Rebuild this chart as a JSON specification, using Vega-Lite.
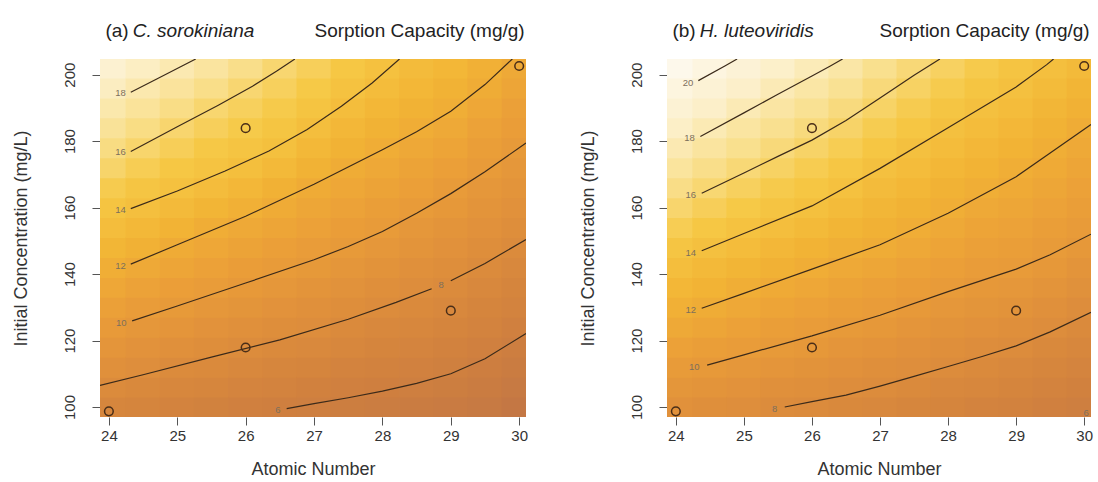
{
"$schema":"https://vega.github.io/schema/vega-lite/v6.json",
"padding":{"left":12,"top":22,"right":2,"bottom":2},
"bounds":"flush",
"spacing":141,
"config":{"view":{"stroke":null},"font":"Liberation Sans"},
"datasets":{
"ha":[
{"x":24,"y":100,"v":7.22},{"x":24,"y":106,"v":7.88},{"x":24,"y":112,"v":8.59},{"x":24,"y":118,"v":9.32},{"x":24,"y":124,"v":10.05},{"x":24,"y":130,"v":10.77},{"x":24,"y":136,"v":11.49},{"x":24,"y":142,"v":12.2},{"x":24,"y":148,"v":12.92},{"x":24,"y":154,"v":13.63},{"x":24,"y":160,"v":14.36},{"x":24,"y":166,"v":15.1},{"x":24,"y":172,"v":15.84},{"x":24,"y":178,"v":16.52},{"x":24,"y":184,"v":17.19},{"x":24,"y":190,"v":17.86},{"x":24,"y":196,"v":18.56},{"x":24,"y":202,"v":19.28},
{"x":24.5,"y":100,"v":6.96},{"x":24.5,"y":106,"v":7.6},{"x":24.5,"y":112,"v":8.27},{"x":24.5,"y":118,"v":8.96},{"x":24.5,"y":124,"v":9.65},{"x":24.5,"y":130,"v":10.34},{"x":24.5,"y":136,"v":11.03},{"x":24.5,"y":142,"v":11.71},{"x":24.5,"y":148,"v":12.42},{"x":24.5,"y":154,"v":13.14},{"x":24.5,"y":160,"v":13.86},{"x":24.5,"y":166,"v":14.54},{"x":24.5,"y":172,"v":15.22},{"x":24.5,"y":178,"v":15.9},{"x":24.5,"y":184,"v":16.58},{"x":24.5,"y":190,"v":17.25},{"x":24.5,"y":196,"v":17.93},{"x":24.5,"y":202,"v":18.62},
{"x":25,"y":100,"v":6.72},{"x":25,"y":106,"v":7.34},{"x":25,"y":112,"v":7.96},{"x":25,"y":118,"v":8.62},{"x":25,"y":124,"v":9.29},{"x":25,"y":130,"v":9.96},{"x":25,"y":136,"v":10.61},{"x":25,"y":142,"v":11.26},{"x":25,"y":148,"v":11.91},{"x":25,"y":154,"v":12.63},{"x":25,"y":160,"v":13.37},{"x":25,"y":166,"v":14.08},{"x":25,"y":172,"v":14.7},{"x":25,"y":178,"v":15.33},{"x":25,"y":184,"v":15.95},{"x":25,"y":190,"v":16.63},{"x":25,"y":196,"v":17.32},{"x":25,"y":202,"v":18.01},
{"x":25.5,"y":100,"v":6.48},{"x":25.5,"y":106,"v":7.09},{"x":25.5,"y":112,"v":7.7},{"x":25.5,"y":118,"v":8.32},{"x":25.5,"y":124,"v":8.96},{"x":25.5,"y":130,"v":9.6},{"x":25.5,"y":136,"v":10.23},{"x":25.5,"y":142,"v":10.85},{"x":25.5,"y":148,"v":11.47},{"x":25.5,"y":154,"v":12.11},{"x":25.5,"y":160,"v":12.86},{"x":25.5,"y":166,"v":13.6},{"x":25.5,"y":172,"v":14.27},{"x":25.5,"y":178,"v":14.84},{"x":25.5,"y":184,"v":15.42},{"x":25.5,"y":190,"v":15.99},{"x":25.5,"y":196,"v":16.7},{"x":25.5,"y":202,"v":17.41},
{"x":26,"y":100,"v":6.27},{"x":26,"y":106,"v":6.86},{"x":26,"y":112,"v":7.45},{"x":26,"y":118,"v":8.04},{"x":26,"y":124,"v":8.65},{"x":26,"y":130,"v":9.26},{"x":26,"y":136,"v":9.87},{"x":26,"y":142,"v":10.47},{"x":26,"y":148,"v":11.06},{"x":26,"y":154,"v":11.66},{"x":26,"y":160,"v":12.33},{"x":26,"y":166,"v":13.08},{"x":26,"y":172,"v":13.84},{"x":26,"y":178,"v":14.42},{"x":26,"y":184,"v":14.96},{"x":26,"y":190,"v":15.49},{"x":26,"y":196,"v":16.03},{"x":26,"y":202,"v":16.73},
{"x":26.5,"y":100,"v":6.07},{"x":26.5,"y":106,"v":6.64},{"x":26.5,"y":112,"v":7.22},{"x":26.5,"y":118,"v":7.79},{"x":26.5,"y":124,"v":8.37},{"x":26.5,"y":130,"v":8.96},{"x":26.5,"y":136,"v":9.54},{"x":26.5,"y":142,"v":10.12},{"x":26.5,"y":148,"v":10.69},{"x":26.5,"y":154,"v":11.25},{"x":26.5,"y":160,"v":11.82},{"x":26.5,"y":166,"v":12.5},{"x":26.5,"y":172,"v":13.22},{"x":26.5,"y":178,"v":13.95},{"x":26.5,"y":184,"v":14.47},{"x":26.5,"y":190,"v":14.98},{"x":26.5,"y":196,"v":15.49},{"x":26.5,"y":202,"v":16.0},
{"x":27,"y":100,"v":5.91},{"x":27,"y":106,"v":6.46},{"x":27,"y":112,"v":7.01},{"x":27,"y":118,"v":7.56},{"x":27,"y":124,"v":8.11},{"x":27,"y":130,"v":8.68},{"x":27,"y":136,"v":9.24},{"x":27,"y":142,"v":9.8},{"x":27,"y":148,"v":10.34},{"x":27,"y":154,"v":10.86},{"x":27,"y":160,"v":11.39},{"x":27,"y":166,"v":11.91},{"x":27,"y":172,"v":12.53},{"x":27,"y":178,"v":13.16},{"x":27,"y":184,"v":13.79},{"x":27,"y":190,"v":14.35},{"x":27,"y":196,"v":14.87},{"x":27,"y":202,"v":15.39},
{"x":27.5,"y":100,"v":5.75},{"x":27.5,"y":106,"v":6.27},{"x":27.5,"y":112,"v":6.78},{"x":27.5,"y":118,"v":7.29},{"x":27.5,"y":124,"v":7.8},{"x":27.5,"y":130,"v":8.33},{"x":27.5,"y":136,"v":8.87},{"x":27.5,"y":142,"v":9.42},{"x":27.5,"y":148,"v":9.96},{"x":27.5,"y":154,"v":10.47},{"x":27.5,"y":160,"v":10.97},{"x":27.5,"y":166,"v":11.48},{"x":27.5,"y":172,"v":11.98},{"x":27.5,"y":178,"v":12.54},{"x":27.5,"y":184,"v":13.09},{"x":27.5,"y":190,"v":13.65},{"x":27.5,"y":196,"v":14.2},{"x":27.5,"y":202,"v":14.74},
{"x":28,"y":100,"v":5.6},{"x":28,"y":106,"v":6.09},{"x":28,"y":112,"v":6.57},{"x":28,"y":118,"v":7.04},{"x":28,"y":124,"v":7.52},{"x":28,"y":130,"v":7.99},{"x":28,"y":136,"v":8.52},{"x":28,"y":142,"v":9.05},{"x":28,"y":148,"v":9.58},{"x":28,"y":154,"v":10.1},{"x":28,"y":160,"v":10.59},{"x":28,"y":166,"v":11.07},{"x":28,"y":172,"v":11.56},{"x":28,"y":178,"v":12.05},{"x":28,"y":184,"v":12.55},{"x":28,"y":190,"v":13.05},{"x":28,"y":196,"v":13.54},{"x":28,"y":202,"v":14.04},
{"x":28.5,"y":100,"v":5.44},{"x":28.5,"y":106,"v":5.92},{"x":28.5,"y":112,"v":6.37},{"x":28.5,"y":118,"v":6.82},{"x":28.5,"y":124,"v":7.26},{"x":28.5,"y":130,"v":7.71},{"x":28.5,"y":136,"v":8.17},{"x":28.5,"y":142,"v":8.66},{"x":28.5,"y":148,"v":9.14},{"x":28.5,"y":154,"v":9.63},{"x":28.5,"y":160,"v":10.12},{"x":28.5,"y":166,"v":10.62},{"x":28.5,"y":172,"v":11.12},{"x":28.5,"y":178,"v":11.62},{"x":28.5,"y":184,"v":12.11},{"x":28.5,"y":190,"v":12.56},{"x":28.5,"y":196,"v":13.02},{"x":28.5,"y":202,"v":13.47},
{"x":29,"y":100,"v":5.27},{"x":29,"y":106,"v":5.72},{"x":29,"y":112,"v":6.16},{"x":29,"y":118,"v":6.58},{"x":29,"y":124,"v":7.01},{"x":29,"y":130,"v":7.44},{"x":29,"y":136,"v":7.86},{"x":29,"y":142,"v":8.31},{"x":29,"y":148,"v":8.76},{"x":29,"y":154,"v":9.22},{"x":29,"y":160,"v":9.67},{"x":29,"y":166,"v":10.14},{"x":29,"y":172,"v":10.65},{"x":29,"y":178,"v":11.16},{"x":29,"y":184,"v":11.68},{"x":29,"y":190,"v":12.16},{"x":29,"y":196,"v":12.6},{"x":29,"y":202,"v":13.04},
{"x":29.5,"y":100,"v":4.98},{"x":29.5,"y":106,"v":5.4},{"x":29.5,"y":112,"v":5.82},{"x":29.5,"y":118,"v":6.24},{"x":29.5,"y":124,"v":6.66},{"x":29.5,"y":130,"v":7.07},{"x":29.5,"y":136,"v":7.48},{"x":29.5,"y":142,"v":7.9},{"x":29.5,"y":148,"v":8.33},{"x":29.5,"y":154,"v":8.76},{"x":29.5,"y":160,"v":9.2},{"x":29.5,"y":166,"v":9.63},{"x":29.5,"y":172,"v":10.07},{"x":29.5,"y":178,"v":10.54},{"x":29.5,"y":184,"v":11.02},{"x":29.5,"y":190,"v":11.49},{"x":29.5,"y":196,"v":11.96},{"x":29.5,"y":202,"v":12.39},
{"x":30,"y":100,"v":4.56},{"x":30,"y":106,"v":4.97},{"x":30,"y":112,"v":5.39},{"x":30,"y":118,"v":5.81},{"x":30,"y":124,"v":6.23},{"x":30,"y":130,"v":6.65},{"x":30,"y":136,"v":7.07},{"x":30,"y":142,"v":7.49},{"x":30,"y":148,"v":7.92},{"x":30,"y":154,"v":8.33},{"x":30,"y":160,"v":8.75},{"x":30,"y":166,"v":9.17},{"x":30,"y":172,"v":9.58},{"x":30,"y":178,"v":10.0},{"x":30,"y":184,"v":10.41},{"x":30,"y":190,"v":10.83},{"x":30,"y":196,"v":11.24},{"x":30,"y":202,"v":11.66}
],
"hb":[
{"x":24,"y":100,"v":8.73},{"x":24,"y":106,"v":9.45},{"x":24,"y":112,"v":10.18},{"x":24,"y":118,"v":10.91},{"x":24,"y":124,"v":11.64},{"x":24,"y":130,"v":12.36},{"x":24,"y":136,"v":13.07},{"x":24,"y":142,"v":13.79},{"x":24,"y":148,"v":14.5},{"x":24,"y":154,"v":15.22},{"x":24,"y":160,"v":15.94},{"x":24,"y":166,"v":16.65},{"x":24,"y":172,"v":17.36},{"x":24,"y":178,"v":18.07},{"x":24,"y":184,"v":18.77},{"x":24,"y":190,"v":19.47},{"x":24,"y":196,"v":20.18},{"x":24,"y":202,"v":20.91},
{"x":24.5,"y":100,"v":8.49},{"x":24.5,"y":106,"v":9.19},{"x":24.5,"y":112,"v":9.88},{"x":24.5,"y":118,"v":10.57},{"x":24.5,"y":124,"v":11.25},{"x":24.5,"y":130,"v":11.93},{"x":24.5,"y":136,"v":12.62},{"x":24.5,"y":142,"v":13.31},{"x":24.5,"y":148,"v":14.0},{"x":24.5,"y":154,"v":14.69},{"x":24.5,"y":160,"v":15.37},{"x":24.5,"y":166,"v":16.06},{"x":24.5,"y":172,"v":16.74},{"x":24.5,"y":178,"v":17.43},{"x":24.5,"y":184,"v":18.12},{"x":24.5,"y":190,"v":18.82},{"x":24.5,"y":196,"v":19.52},{"x":24.5,"y":202,"v":20.22},
{"x":25,"y":100,"v":8.26},{"x":25,"y":106,"v":8.92},{"x":25,"y":112,"v":9.59},{"x":25,"y":118,"v":10.25},{"x":25,"y":124,"v":10.9},{"x":25,"y":130,"v":11.55},{"x":25,"y":136,"v":12.2},{"x":25,"y":142,"v":12.87},{"x":25,"y":148,"v":13.53},{"x":25,"y":154,"v":14.2},{"x":25,"y":160,"v":14.86},{"x":25,"y":166,"v":15.52},{"x":25,"y":172,"v":16.18},{"x":25,"y":178,"v":16.84},{"x":25,"y":184,"v":17.5},{"x":25,"y":190,"v":18.17},{"x":25,"y":196,"v":18.87},{"x":25,"y":202,"v":19.56},
{"x":25.5,"y":100,"v":8.03},{"x":25.5,"y":106,"v":8.67},{"x":25.5,"y":112,"v":9.31},{"x":25.5,"y":118,"v":9.95},{"x":25.5,"y":124,"v":10.57},{"x":25.5,"y":130,"v":11.19},{"x":25.5,"y":136,"v":11.8},{"x":25.5,"y":142,"v":12.44},{"x":25.5,"y":148,"v":13.09},{"x":25.5,"y":154,"v":13.74},{"x":25.5,"y":160,"v":14.38},{"x":25.5,"y":166,"v":15.01},{"x":25.5,"y":172,"v":15.64},{"x":25.5,"y":178,"v":16.28},{"x":25.5,"y":184,"v":16.92},{"x":25.5,"y":190,"v":17.56},{"x":25.5,"y":196,"v":18.21},{"x":25.5,"y":202,"v":18.88},
{"x":26,"y":100,"v":7.84},{"x":26,"y":106,"v":8.44},{"x":26,"y":112,"v":9.05},{"x":26,"y":118,"v":9.66},{"x":26,"y":124,"v":10.26},{"x":26,"y":130,"v":10.86},{"x":26,"y":136,"v":11.45},{"x":26,"y":142,"v":12.05},{"x":26,"y":148,"v":12.68},{"x":26,"y":154,"v":13.32},{"x":26,"y":160,"v":13.95},{"x":26,"y":166,"v":14.56},{"x":26,"y":172,"v":15.16},{"x":26,"y":178,"v":15.77},{"x":26,"y":184,"v":16.38},{"x":26,"y":190,"v":17.01},{"x":26,"y":196,"v":17.63},{"x":26,"y":202,"v":18.26},
{"x":26.5,"y":100,"v":7.65},{"x":26.5,"y":106,"v":8.23},{"x":26.5,"y":112,"v":8.81},{"x":26.5,"y":118,"v":9.38},{"x":26.5,"y":124,"v":9.96},{"x":26.5,"y":130,"v":10.54},{"x":26.5,"y":136,"v":11.12},{"x":26.5,"y":142,"v":11.69},{"x":26.5,"y":148,"v":12.27},{"x":26.5,"y":154,"v":12.86},{"x":26.5,"y":160,"v":13.45},{"x":26.5,"y":166,"v":14.04},{"x":26.5,"y":172,"v":14.62},{"x":26.5,"y":178,"v":15.2},{"x":26.5,"y":184,"v":15.79},{"x":26.5,"y":190,"v":16.39},{"x":26.5,"y":196,"v":17.02},{"x":26.5,"y":202,"v":17.64},
{"x":27,"y":100,"v":7.41},{"x":27,"y":106,"v":7.97},{"x":27,"y":112,"v":8.54},{"x":27,"y":118,"v":9.1},{"x":27,"y":124,"v":9.66},{"x":27,"y":130,"v":10.23},{"x":27,"y":136,"v":10.79},{"x":27,"y":142,"v":11.36},{"x":27,"y":148,"v":11.92},{"x":27,"y":154,"v":12.45},{"x":27,"y":160,"v":12.97},{"x":27,"y":166,"v":13.5},{"x":27,"y":172,"v":14.02},{"x":27,"y":178,"v":14.58},{"x":27,"y":184,"v":15.15},{"x":27,"y":190,"v":15.72},{"x":27,"y":196,"v":16.29},{"x":27,"y":202,"v":16.86},
{"x":27.5,"y":100,"v":7.17},{"x":27.5,"y":106,"v":7.71},{"x":27.5,"y":112,"v":8.26},{"x":27.5,"y":118,"v":8.81},{"x":27.5,"y":124,"v":9.36},{"x":27.5,"y":130,"v":9.91},{"x":27.5,"y":136,"v":10.46},{"x":27.5,"y":142,"v":11.0},{"x":27.5,"y":148,"v":11.55},{"x":27.5,"y":154,"v":12.09},{"x":27.5,"y":160,"v":12.57},{"x":27.5,"y":166,"v":13.05},{"x":27.5,"y":172,"v":13.53},{"x":27.5,"y":178,"v":14.01},{"x":27.5,"y":184,"v":14.56},{"x":27.5,"y":190,"v":15.11},{"x":27.5,"y":196,"v":15.65},{"x":27.5,"y":202,"v":16.2},
{"x":28,"y":100,"v":6.95},{"x":28,"y":106,"v":7.47},{"x":28,"y":112,"v":7.98},{"x":28,"y":118,"v":8.52},{"x":28,"y":124,"v":9.05},{"x":28,"y":130,"v":9.58},{"x":28,"y":136,"v":10.11},{"x":28,"y":142,"v":10.62},{"x":28,"y":148,"v":11.13},{"x":28,"y":154,"v":11.64},{"x":28,"y":160,"v":12.13},{"x":28,"y":166,"v":12.6},{"x":28,"y":172,"v":13.07},{"x":28,"y":178,"v":13.53},{"x":28,"y":184,"v":14.0},{"x":28,"y":190,"v":14.53},{"x":28,"y":196,"v":15.07},{"x":28,"y":202,"v":15.6},
{"x":28.5,"y":100,"v":6.74},{"x":28.5,"y":106,"v":7.24},{"x":28.5,"y":112,"v":7.74},{"x":28.5,"y":118,"v":8.24},{"x":28.5,"y":124,"v":8.75},{"x":28.5,"y":130,"v":9.26},{"x":28.5,"y":136,"v":9.77},{"x":28.5,"y":142,"v":10.26},{"x":28.5,"y":148,"v":10.74},{"x":28.5,"y":154,"v":11.22},{"x":28.5,"y":160,"v":11.7},{"x":28.5,"y":166,"v":12.17},{"x":28.5,"y":172,"v":12.62},{"x":28.5,"y":178,"v":13.08},{"x":28.5,"y":184,"v":13.54},{"x":28.5,"y":190,"v":13.99},{"x":28.5,"y":196,"v":14.49},{"x":28.5,"y":202,"v":15.0},
{"x":29,"y":100,"v":6.49},{"x":29,"y":106,"v":6.98},{"x":29,"y":112,"v":7.48},{"x":29,"y":118,"v":7.97},{"x":29,"y":124,"v":8.51},{"x":29,"y":130,"v":9.05},{"x":29,"y":136,"v":9.59},{"x":29,"y":142,"v":10.1},{"x":29,"y":148,"v":10.52},{"x":29,"y":154,"v":10.94},{"x":29,"y":160,"v":11.35},{"x":29,"y":166,"v":11.77},{"x":29,"y":172,"v":12.2},{"x":29,"y":178,"v":12.64},{"x":29,"y":184,"v":13.09},{"x":29,"y":190,"v":13.53},{"x":29,"y":196,"v":13.98},{"x":29,"y":202,"v":14.44},
{"x":29.5,"y":100,"v":6.23},{"x":29.5,"y":106,"v":6.7},{"x":29.5,"y":112,"v":7.17},{"x":29.5,"y":118,"v":7.64},{"x":29.5,"y":124,"v":8.12},{"x":29.5,"y":130,"v":8.65},{"x":29.5,"y":136,"v":9.17},{"x":29.5,"y":142,"v":9.69},{"x":29.5,"y":148,"v":10.16},{"x":29.5,"y":154,"v":10.55},{"x":29.5,"y":160,"v":10.94},{"x":29.5,"y":166,"v":11.33},{"x":29.5,"y":172,"v":11.72},{"x":29.5,"y":178,"v":12.12},{"x":29.5,"y":184,"v":12.55},{"x":29.5,"y":190,"v":12.99},{"x":29.5,"y":196,"v":13.43},{"x":29.5,"y":202,"v":13.87},
{"x":30,"y":100,"v":6.0},{"x":30,"y":106,"v":6.43},{"x":30,"y":112,"v":6.87},{"x":30,"y":118,"v":7.3},{"x":30,"y":124,"v":7.73},{"x":30,"y":130,"v":8.2},{"x":30,"y":136,"v":8.71},{"x":30,"y":142,"v":9.23},{"x":30,"y":148,"v":9.74},{"x":30,"y":154,"v":10.18},{"x":30,"y":160,"v":10.55},{"x":30,"y":166,"v":10.91},{"x":30,"y":172,"v":11.28},{"x":30,"y":178,"v":11.64},{"x":30,"y":184,"v":12.01},{"x":30,"y":190,"v":12.45},{"x":30,"y":196,"v":12.89},{"x":30,"y":202,"v":13.34}
],
"la":[
{"id":"18","x":24.32,"y":194.7},{"id":"18","x":24.7,"y":198.7},{"id":"18","x":25.07,"y":202.6},{"id":"18","x":25.27,"y":204.7},
{"id":"16","x":24.32,"y":176.9},{"id":"16","x":25.0,"y":184.3},{"id":"16","x":25.6,"y":190.8},{"id":"16","x":26.1,"y":196.5},{"id":"16","x":26.45,"y":201},{"id":"16","x":26.72,"y":204.7},
{"id":"14","x":24.32,"y":159.7},{"id":"14","x":25.0,"y":165.0},{"id":"14","x":25.7,"y":171.0},{"id":"14","x":26.34,"y":177.0},{"id":"14","x":26.9,"y":183.5},{"id":"14","x":27.4,"y":190.5},{"id":"14","x":27.85,"y":197.5},{"id":"14","x":28.25,"y":204.7},
{"id":"12","x":24.32,"y":143.0},{"id":"12","x":25.0,"y":148.8},{"id":"12","x":26.0,"y":157.4},{"id":"12","x":27.0,"y":167.0},{"id":"12","x":28.0,"y":177.4},{"id":"12","x":28.5,"y":182.8},{"id":"12","x":29.0,"y":189.0},{"id":"12","x":29.5,"y":197.0},{"id":"12","x":29.9,"y":204.7},
{"id":"10","x":24.34,"y":125.9},{"id":"10","x":25.0,"y":130.4},{"id":"10","x":26.0,"y":137.3},{"id":"10","x":27.0,"y":144.3},{"id":"10","x":27.5,"y":148.3},{"id":"10","x":28.0,"y":152.8},{"id":"10","x":28.5,"y":158.3},{"id":"10","x":29.0,"y":164.2},{"id":"10","x":29.5,"y":170.8},{"id":"10","x":30.1,"y":179.4},
{"id":"8a","x":23.87,"y":106.5},{"id":"8a","x":24.5,"y":109.7},{"id":"8a","x":25.5,"y":115.0},{"id":"8a","x":26.5,"y":120.2},{"id":"8a","x":27.5,"y":126.4},{"id":"8a","x":28.2,"y":131.5},{"id":"8a","x":28.72,"y":135.6},
{"id":"8b","x":29.0,"y":138.0},{"id":"8b","x":29.5,"y":143.2},{"id":"8b","x":30.1,"y":150.4},
{"id":"6","x":26.6,"y":99.5},{"id":"6","x":27.0,"y":101.0},{"id":"6","x":27.5,"y":102.8},{"id":"6","x":28.0,"y":104.8},{"id":"6","x":28.5,"y":107.1},{"id":"6","x":29.0,"y":110.0},{"id":"6","x":29.5,"y":114.5},{"id":"6","x":30.1,"y":122.1}
],
"lb":[
{"id":"20","x":24.33,"y":198.2},{"id":"20","x":24.72,"y":202.6},{"id":"20","x":24.9,"y":204.7},
{"id":"18","x":24.36,"y":181.4},{"id":"18","x":25.0,"y":188.5},{"id":"18","x":25.5,"y":194.1},{"id":"18","x":26.0,"y":199.6},{"id":"18","x":26.27,"y":202.6},{"id":"18","x":26.45,"y":204.7},
{"id":"16","x":24.38,"y":164.3},{"id":"16","x":25.0,"y":170.4},{"id":"16","x":25.5,"y":175.4},{"id":"16","x":26.0,"y":180.3},{"id":"16","x":26.5,"y":186.2},{"id":"16","x":27.0,"y":193.0},{"id":"16","x":27.5,"y":199.8},{"id":"16","x":27.88,"y":204.7},
{"id":"14","x":24.38,"y":147.0},{"id":"14","x":25.0,"y":152.2},{"id":"14","x":26.0,"y":160.5},{"id":"14","x":27.0,"y":171.8},{"id":"14","x":28.0,"y":184.0},{"id":"14","x":29.0,"y":196.3},{"id":"14","x":29.45,"y":203.0},{"id":"14","x":29.55,"y":204.7},
{"id":"12","x":24.38,"y":129.7},{"id":"12","x":25.0,"y":134.2},{"id":"12","x":26.0,"y":141.5},{"id":"12","x":27.0,"y":148.8},{"id":"12","x":28.0,"y":158.3},{"id":"12","x":29.0,"y":169.3},{"id":"12","x":29.5,"y":176.4},{"id":"12","x":30.1,"y":185.0},
{"id":"10","x":24.46,"y":112.6},{"id":"10","x":25.0,"y":115.7},{"id":"10","x":26.0,"y":121.4},{"id":"10","x":27.0,"y":127.6},{"id":"10","x":28.0,"y":134.7},{"id":"10","x":29.0,"y":141.5},{"id":"10","x":29.5,"y":145.8},{"id":"10","x":30.1,"y":152.0},
{"id":"8","x":25.6,"y":100.0},{"id":"8","x":26.0,"y":101.6},{"id":"8","x":26.5,"y":103.6},{"id":"8","x":27.0,"y":106.3},{"id":"8","x":27.5,"y":109.2},{"id":"8","x":28.0,"y":112.2},{"id":"8","x":28.5,"y":115.2},{"id":"8","x":29.0,"y":118.4},{"id":"8","x":29.5,"y":122.6},{"id":"8","x":30.1,"y":128.5}
],
"ta":[
{"t":"18","x":24.17,"y":194.6},{"t":"16","x":24.17,"y":176.6},{"t":"14","x":24.17,"y":159.3},{"t":"12","x":24.17,"y":142.5},{"t":"10","x":24.18,"y":125.3},{"t":"8","x":28.86,"y":136.7},{"t":"6","x":26.47,"y":99.1}
],
"tb":[
{"t":"20","x":24.18,"y":197.6},{"t":"18","x":24.2,"y":180.8},{"t":"16","x":24.22,"y":163.7},{"t":"14","x":24.22,"y":146.4},{"t":"12","x":24.22,"y":129.1},{"t":"10","x":24.27,"y":111.9},{"t":"8","x":25.45,"y":99.4},{"t":"6","x":30.03,"y":98.3}
],
"pts":[
{"x":24,"y":98.7},{"x":26,"y":117.9},{"x":26,"y":183.9},{"x":29,"y":129.0},{"x":30,"y":202.6}
]
},
"hconcat":[
{
"width":426,"height":358,
"layer":[
{"data":{"name":"ha"},"mark":{"type":"rect","width":35,"height":21,"clip":true},"encoding":{
"x":{"field":"x","type":"quantitative","scale":{"domain":[23.87,30.1],"nice":false,"zero":false},"axis":{"title":"Atomic Number","values":[24,25,26,27,28,29,30],"format":"d","domain":false,"grid":false,"tickSize":8,"tickColor":"#555","labelFontSize":15,"labelColor":"#333","labelPadding":3,"titleFontSize":18,"titleFontWeight":"normal","titleColor":"#333","titlePadding":17}},
"y":{"field":"y","type":"quantitative","scale":{"domain":[97,204.7],"nice":false,"zero":false},"axis":{"title":"Initial Concentration (mg/L)","values":[100,120,140,160,180,200],"format":"d","domain":false,"grid":false,"tickSize":8,"tickColor":"#555","labelFontSize":15,"labelColor":"#333","labelAngle":270,"labelAlign":"center","labelBaseline":"middle","labelPadding":23,"titleFontSize":18,"titleFontWeight":"normal","titleColor":"#333","titlePadding":32}},
"color":{"field":"v","type":"quantitative","scale":{"domain":[4.5,6,8,10,12,14,16,18,19.5],"range":["#c47744","#d2823e","#e0903b","#eb9f38","#f2b435","#f6c845","#f9e08f","#fcf0cc","#fdf8ec"],"interpolate":"rgb"},"legend":null}}},
{"data":{"name":"la"},"mark":{"type":"line","clip":true,"color":"#3b2a1a","strokeWidth":1.2},"encoding":{"x":{"field":"x","type":"quantitative","scale":{"domain":[23.87,30.1]}},"y":{"field":"y","type":"quantitative","scale":{"domain":[97,204.7]}},"detail":{"field":"id"}}},
{"data":{"name":"ta"},"mark":{"type":"text","fontSize":9.5,"color":"#7d6f5c"},"encoding":{"x":{"field":"x","type":"quantitative","scale":{"domain":[23.87,30.1]}},"y":{"field":"y","type":"quantitative","scale":{"domain":[97,204.7]}},"text":{"field":"t"}}},
{"data":{"name":"pts"},"mark":{"type":"point","shape":"circle","size":75,"strokeWidth":1.5,"color":"#4a2e18","filled":false,"opacity":1},"encoding":{"x":{"field":"x","type":"quantitative","scale":{"domain":[23.87,30.1]}},"y":{"field":"y","type":"quantitative","scale":{"domain":[97,204.7]}}}},
{"data":{"values":[{"t":"(a)"}]},"mark":{"type":"text","align":"left","baseline":"middle","fontSize":19,"color":"#222","clip":false},"encoding":{"x":{"datum":23.95,"type":"quantitative","scale":{"domain":[23.87,30.1]}},"y":{"datum":213,"type":"quantitative","scale":{"domain":[97,204.7]}},"text":{"field":"t"}}},
{"data":{"values":[{"t":"C. sorokiniana"}]},"mark":{"type":"text","align":"left","baseline":"middle","fontSize":19,"fontStyle":"italic","color":"#222","clip":false},"encoding":{"x":{"datum":24.35,"type":"quantitative","scale":{"domain":[23.87,30.1]}},"y":{"datum":213,"type":"quantitative","scale":{"domain":[97,204.7]}},"text":{"field":"t"}}},
{"data":{"values":[{"t":"Sorption Capacity (mg/g)"}]},"mark":{"type":"text","align":"right","baseline":"middle","fontSize":19,"color":"#222","clip":false},"encoding":{"x":{"datum":30.08,"type":"quantitative","scale":{"domain":[23.87,30.1]}},"y":{"datum":213,"type":"quantitative","scale":{"domain":[97,204.7]}},"text":{"field":"t"}}}
]
},
{
"width":424,"height":358,
"layer":[
{"data":{"name":"hb"},"mark":{"type":"rect","width":35,"height":21,"clip":true},"encoding":{
"x":{"field":"x","type":"quantitative","scale":{"domain":[23.87,30.1],"nice":false,"zero":false},"axis":{"title":"Atomic Number","values":[24,25,26,27,28,29,30],"format":"d","domain":false,"grid":false,"tickSize":8,"tickColor":"#555","labelFontSize":15,"labelColor":"#333","labelPadding":3,"titleFontSize":18,"titleFontWeight":"normal","titleColor":"#333","titlePadding":17}},
"y":{"field":"y","type":"quantitative","scale":{"domain":[97,204.7],"nice":false,"zero":false},"axis":{"title":"Initial Concentration (mg/L)","values":[100,120,140,160,180,200],"format":"d","domain":false,"grid":false,"tickSize":8,"tickColor":"#555","labelFontSize":15,"labelColor":"#333","labelAngle":270,"labelAlign":"center","labelBaseline":"middle","labelPadding":23,"titleFontSize":18,"titleFontWeight":"normal","titleColor":"#333","titlePadding":32}},
"color":{"field":"v","type":"quantitative","scale":{"domain":[6,7.5,9.5,11.5,13.5,15.5,17.5,19.5,21],"range":["#c47744","#d2823e","#e0903b","#eb9f38","#f2b435","#f6c845","#f9e08f","#fcf0cc","#fdf8ec"],"interpolate":"rgb"},"legend":null}}},
{"data":{"name":"lb"},"mark":{"type":"line","clip":true,"color":"#3b2a1a","strokeWidth":1.2},"encoding":{"x":{"field":"x","type":"quantitative","scale":{"domain":[23.87,30.1]}},"y":{"field":"y","type":"quantitative","scale":{"domain":[97,204.7]}},"detail":{"field":"id"}}},
{"data":{"name":"tb"},"mark":{"type":"text","fontSize":9.5,"color":"#7d6f5c"},"encoding":{"x":{"field":"x","type":"quantitative","scale":{"domain":[23.87,30.1]}},"y":{"field":"y","type":"quantitative","scale":{"domain":[97,204.7]}},"text":{"field":"t"}}},
{"data":{"name":"pts"},"mark":{"type":"point","shape":"circle","size":75,"strokeWidth":1.5,"color":"#4a2e18","filled":false,"opacity":1},"encoding":{"x":{"field":"x","type":"quantitative","scale":{"domain":[23.87,30.1]}},"y":{"field":"y","type":"quantitative","scale":{"domain":[97,204.7]}}}},
{"data":{"values":[{"t":"(b)"}]},"mark":{"type":"text","align":"left","baseline":"middle","fontSize":19,"color":"#222","clip":false},"encoding":{"x":{"datum":23.95,"type":"quantitative","scale":{"domain":[23.87,30.1]}},"y":{"datum":213,"type":"quantitative","scale":{"domain":[97,204.7]}},"text":{"field":"t"}}},
{"data":{"values":[{"t":"H. luteoviridis"}]},"mark":{"type":"text","align":"left","baseline":"middle","fontSize":19,"fontStyle":"italic","color":"#222","clip":false},"encoding":{"x":{"datum":24.35,"type":"quantitative","scale":{"domain":[23.87,30.1]}},"y":{"datum":213,"type":"quantitative","scale":{"domain":[97,204.7]}},"text":{"field":"t"}}},
{"data":{"values":[{"t":"Sorption Capacity (mg/g)"}]},"mark":{"type":"text","align":"right","baseline":"middle","fontSize":19,"color":"#222","clip":false},"encoding":{"x":{"datum":30.08,"type":"quantitative","scale":{"domain":[23.87,30.1]}},"y":{"datum":213,"type":"quantitative","scale":{"domain":[97,204.7]}},"text":{"field":"t"}}}
]
}
]
}
